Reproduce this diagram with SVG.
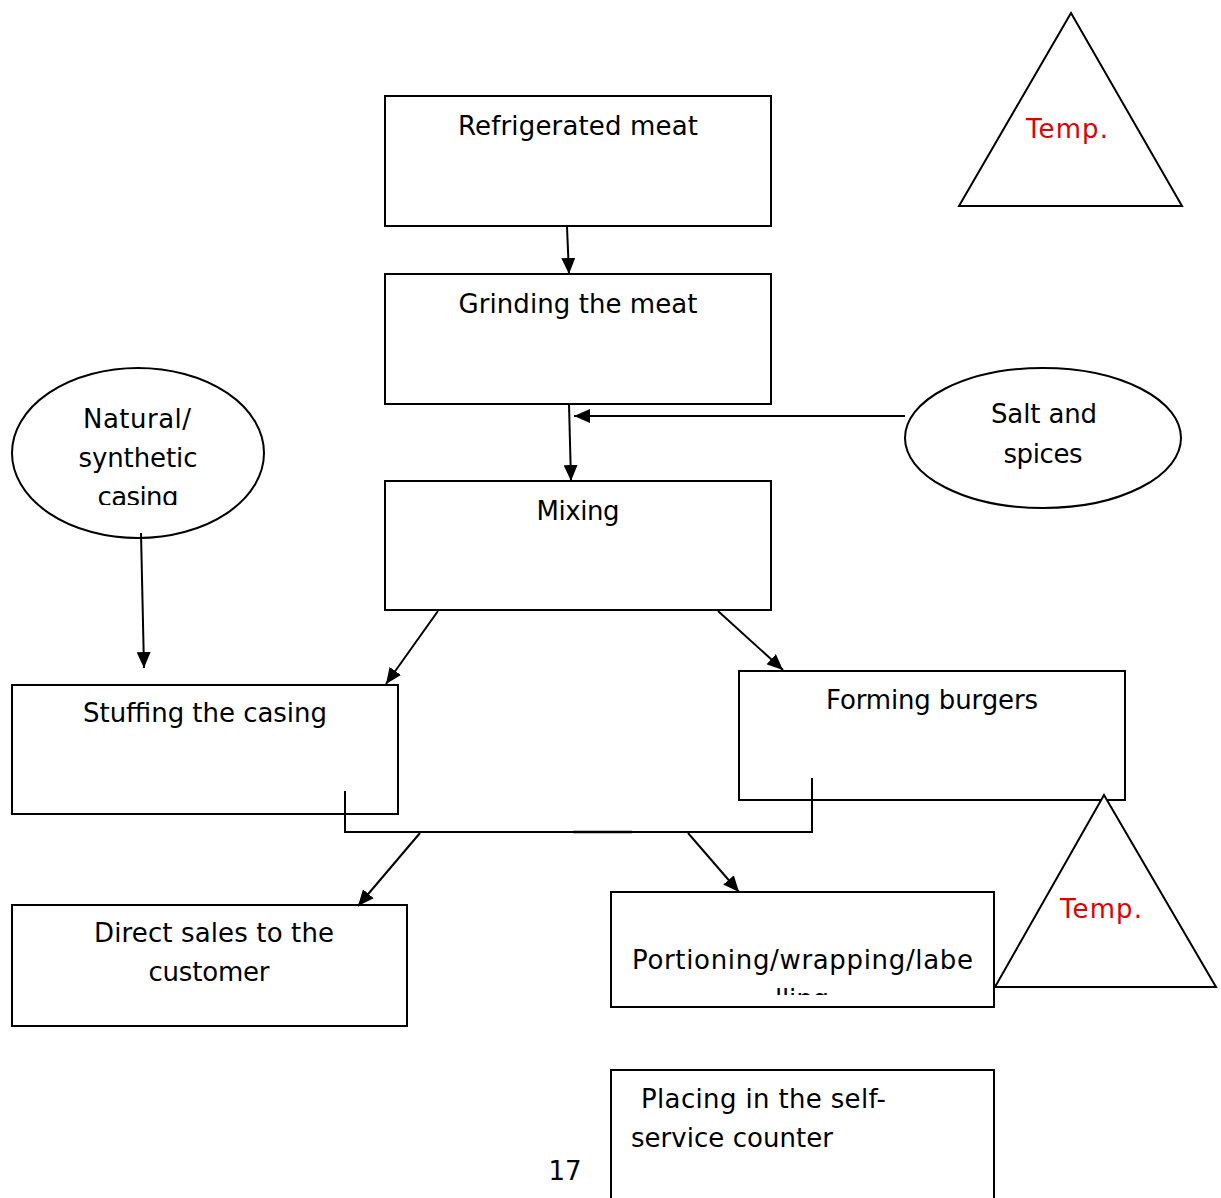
<svg xmlns="http://www.w3.org/2000/svg" width="1221" height="1198" viewBox="0 0 1221 1198">
<style>
.box{fill:#fff;stroke:#000;stroke-width:2}
.t{font-family:"DejaVu Sans",sans-serif;font-size:26px;fill:#000}
.c{text-anchor:middle}
.red{fill:#e00000}
.ln{stroke:#000;stroke-width:2;fill:none}
</style>
<defs>
<marker id="ah" viewBox="0 0 16 14" refX="16" refY="7" markerWidth="16" markerHeight="14" markerUnits="userSpaceOnUse" orient="auto">
<path d="M0,0 L16,7 L0,14 z" fill="#000"/>
</marker>
<clipPath id="clipCasing"><rect x="0" y="360" width="280" height="145"/></clipPath>
<clipPath id="clipPort"><rect x="611" y="892" width="383" height="103"/></clipPath>
</defs>
<rect width="1221" height="1198" fill="#fff"/>
<g id="n-refrigerated">
<rect class="box" x="385" y="96" width="386" height="130"/>
<text class="t c" x="578" y="135" textLength="240">Refrigerated meat</text>
</g>
<g id="n-grinding">
<rect class="box" x="385" y="274" width="386" height="130"/>
<text class="t c" x="578" y="313" textLength="239">Grinding the meat</text>
</g>
<g id="n-mixing">
<rect class="box" x="385" y="481" width="386" height="129"/>
<text class="t c" x="578" y="520" textLength="83">Mixing</text>
</g>
<g id="n-temp1">
<polygon class="box" points="1071,13 959,206 1182,206"/>
<text class="t c red" x="1067" y="138" textLength="82">Temp.</text>
</g>
<g id="n-salt">
<ellipse class="box" cx="1043" cy="438" rx="138" ry="70"/>
<text class="t c" x="1044" y="423" textLength="106">Salt and</text>
<text class="t c" x="1043" y="463" textLength="79">spices</text>
</g>
<g id="n-casing">
<ellipse class="box" cx="138" cy="453" rx="126" ry="85"/>
<g clip-path="url(#clipCasing)">
<text class="t c" x="137" y="428" textLength="108">Natural/</text>
<text class="t c" x="138" y="467" textLength="119">synthetic</text>
<text class="t c" x="138" y="506" textLength="81">casing</text>
</g>
</g>
<g id="n-stuffing">
<rect class="box" x="12" y="685" width="386" height="129"/>
<text class="t c" x="205" y="722" textLength="244">Stuffing the casing</text>
</g>
<g id="n-forming">
<rect class="box" x="739" y="671" width="386" height="129"/>
<text class="t c" x="932" y="709" textLength="212">Forming burgers</text>
</g>
<g id="n-temp2">
<polygon class="box" points="1104,795 995,987 1216,987"/>
<text class="t c red" x="1101" y="918" textLength="82">Temp.</text>
</g>
<g id="n-direct">
<rect class="box" x="12" y="905" width="395" height="121"/>
<text class="t c" x="214" y="942" textLength="240">Direct sales to the</text>
<text class="t c" x="209" y="981" textLength="121">customer</text>
</g>
<g id="n-portioning">
<rect class="box" x="611" y="892" width="383" height="115"/>
<g clip-path="url(#clipPort)">
<text class="t" x="632" y="969" textLength="341">Portioning/wrapping/labe</text>
<text class="t c" x="802" y="1008" textLength="54">lling</text>
</g>
</g>
<g id="n-placing">
<rect class="box" x="611" y="1070" width="383" height="140"/>
<text class="t" x="641" y="1108" textLength="245">Placing in the self-</text>
<text class="t" x="631" y="1147" textLength="202">service counter</text>
</g>
<text class="t c" x="565" y="1180">17</text>
<g id="connectors">
<line class="ln" x1="567" y1="227" x2="569" y2="274" marker-end="url(#ah)"/>
<line class="ln" x1="569" y1="404" x2="571" y2="481" marker-end="url(#ah)"/>
<line class="ln" x1="905" y1="416" x2="574" y2="416" marker-end="url(#ah)"/>
<line class="ln" x1="141" y1="533" x2="144" y2="668" marker-end="url(#ah)"/>
<line class="ln" x1="438" y1="611" x2="386" y2="684" marker-end="url(#ah)"/>
<line class="ln" x1="718" y1="611" x2="783" y2="670" marker-end="url(#ah)"/>
<polyline class="ln" points="345,791 345,832 812,832 812,778"/>
<line x1="573" y1="832" x2="632" y2="832" stroke="#000" stroke-width="2.5"/>
<line class="ln" x1="420" y1="833" x2="358" y2="906" marker-end="url(#ah)"/>
<line class="ln" x1="688" y1="833" x2="739" y2="892" marker-end="url(#ah)"/>
</g>
</svg>
